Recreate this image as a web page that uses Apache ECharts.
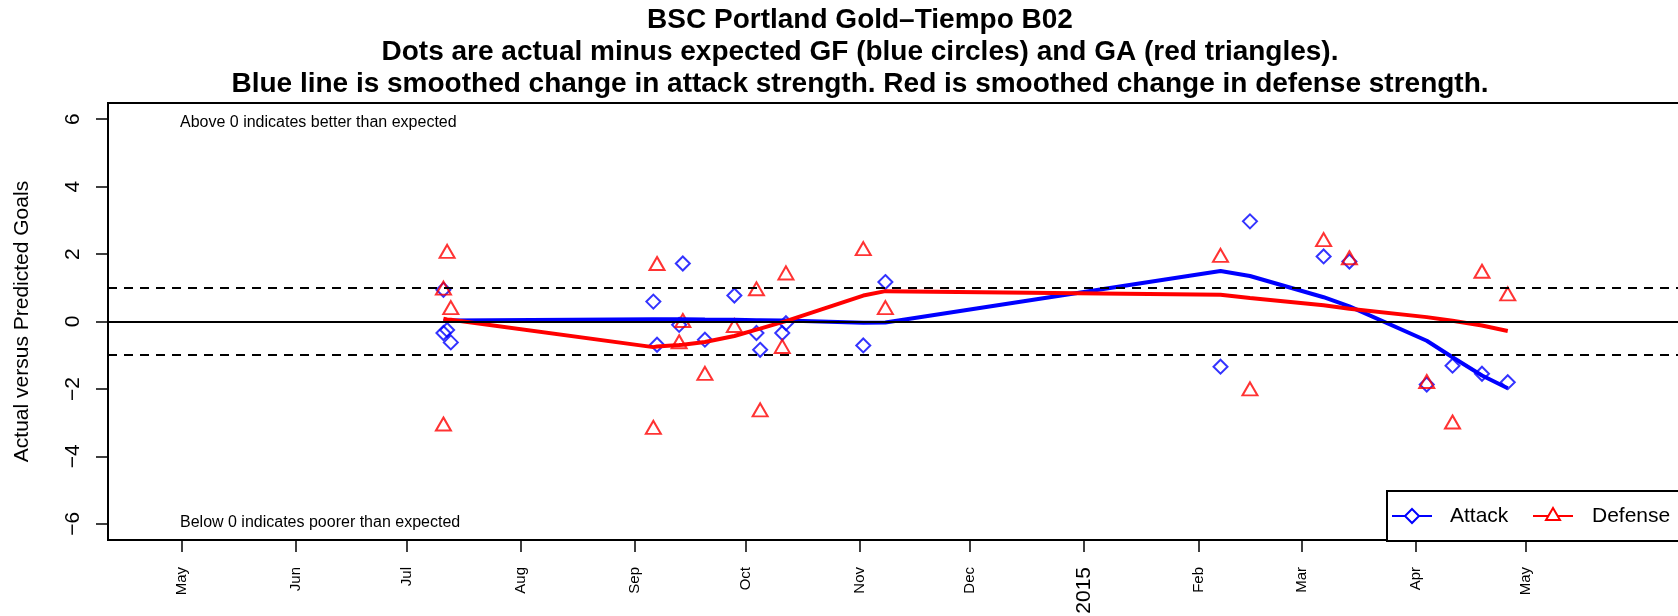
<!DOCTYPE html>
<html>
<head>
<meta charset="utf-8">
<script src="https://cdn.jsdelivr.net/npm/echarts@6/dist/echarts.min.js"></script>
<style>
html,body{margin:0;padding:0;background:#fff;}
#chart{width:1678px;height:616px;}
</style>
</head>
<body>
<div id="chart"></div>
<script>
// ---- data ----
const matchDates = ['2014-07-11','2014-07-11','2014-07-12','2014-07-13',
  '2014-09-06','2014-09-07','2014-09-13','2014-09-14','2014-09-20','2014-09-28',
  '2014-10-04','2014-10-05','2014-10-11','2014-10-12','2014-11-02','2014-11-08',
  '2015-02-07','2015-02-15','2015-03-07','2015-03-14',
  '2015-04-04','2015-04-11','2015-04-19','2015-04-26'];
const attackDiff = [0.94,-0.34,-0.25,-0.62,
  0.59,-0.69,-0.10,1.72,-0.54,0.77,
  -0.34,-0.84,-0.34,-0.05,-0.71,1.17,
  -1.34,2.97,1.93,1.78,
  -1.87,-1.31,-1.55,-1.80];
const defenseDiff = [-3.04,0.99,2.08,0.41,
  -3.14,1.72,-0.60,0.03,-1.54,-0.12,
  0.97,-2.62,-0.74,1.44,2.16,0.41,
  1.96,-2.00,2.43,1.89,
  -1.78,-2.98,1.49,0.82];
const smoothDates = ['2014-07-11','2014-07-12','2014-07-13',
  '2014-09-06','2014-09-07','2014-09-13','2014-09-14','2014-09-20','2014-09-28',
  '2014-10-04','2014-10-05','2014-10-11','2014-10-12','2014-11-02','2014-11-08',
  '2015-02-07','2015-02-15','2015-03-07','2015-03-14',
  '2015-04-04','2015-04-11','2015-04-19','2015-04-26'];
const attackSmooth = [0.02,0.02,0.03,
  0.07,0.07,0.07,0.07,0.06,0.05,
  0.04,0.04,0.03,0.03,-0.04,-0.03,
  1.50,1.35,0.72,0.45,
  -0.57,-1.06,-1.60,-1.98];
const defenseSmooth = [0.08,0.06,0.05,
  -0.76,-0.74,-0.70,-0.69,-0.61,-0.43,
  -0.24,-0.21,-0.02,0.01,0.77,0.90,
  0.79,0.70,0.48,0.38,
  0.13,0.02,-0.12,-0.28];
const xTickDates = ['2014-05-01','2014-06-01','2014-07-01','2014-08-01','2014-09-01',
  '2014-10-01','2014-11-01','2014-12-01','2015-01-01','2015-02-01','2015-03-01',
  '2015-04-01','2015-05-01'];
const xTickLabels = ['May','Jun','Jul','Aug','Sep','Oct','Nov','Dec','2015','Feb','Mar','Apr','May'];
const yTicks = [-6,-4,-2,0,2,4,6];
const refLines = [0, 1, -1];
const titleLines = ['BSC Portland Gold\u2013Tiempo B02',
  'Dots are actual minus expected GF (blue circles) and GA (red triangles).',
  'Blue line is smoothed change in attack strength. Red is smoothed change in defense strength.'];
const xRange = ['2014-04-10T22:00:00Z','2015-06-12T14:00:00Z'];
const yRange = [-6.48, 6.48];

// ---- build ----
const ts = s => Date.parse(s);
const xTickTimes = xTickDates.map(ts);
const pairs = (dates, vals) => dates.map((d,i) => [ts(d), vals[i]]);
const FONT = "'Liberation Sans', Arial, Helvetica, sans-serif";

const titleGraphics = titleLines.map((t, i) => ({
  type: 'text', x: 860, y: 20 + i * 32,
  style: {text: t, font: "bold 28px " + FONT, fill: '#000', align: 'center', verticalAlign: 'middle'}
}));

const chart = echarts.init(document.getElementById('chart'), null, {renderer:'canvas'});
chart.setOption({
  animation: false,
  backgroundColor: '#fff',
  grid: {left: 108, top: 103, right: -5, bottom: 76, outerBoundsMode: 'none', containLabel: false,
         show: true, borderColor: '#000', borderWidth: 2, backgroundColor: 'transparent'},
  xAxis: {
    type: 'value', min: ts(xRange[0]), max: ts(xRange[1]),
    axisLine: {show: false, onZero: false},
    splitLine: {show: false},
    axisTick: {show: true, customValues: xTickTimes, length: 12, lineStyle: {color: '#000', width: 1.5}},
    axisLabel: {
      customValues: xTickTimes, rotate: 90, margin: 27, color: '#000',
      fontFamily: FONT, fontSize: 15,
      formatter: function (v) {
        const i = xTickTimes.indexOf(v);
        const lab = i >= 0 ? xTickLabels[i] : '';
        return /^\d{4}$/.test(lab) ? '{yr|' + lab + '}' : lab;
      },
      rich: {yr: {fontSize: 21, fontFamily: FONT, color: '#000'}}
    }
  },
  yAxis: {
    type: 'value', min: yRange[0], max: yRange[1],
    name: 'Actual versus Predicted Goals', nameLocation: 'middle', nameGap: 75, nameRotate: 90,
    nameTextStyle: {fontFamily: FONT, fontSize: 21, color: '#000'},
    axisLine: {show: false, onZero: false},
    splitLine: {show: false},
    axisTick: {show: true, customValues: yTicks, length: 12, lineStyle: {color: '#000', width: 1.5}},
    axisLabel: {
      customValues: yTicks, rotate: 90, margin: 24, color: '#000',
      fontFamily: FONT, fontSize: 21,
      formatter: v => (v < 0 ? '\u2212' + Math.abs(v) : String(v))
    }
  },
  series: [
    {
      name: 'Attack', type: 'scatter', data: pairs(matchDates, attackDiff),
      symbol: 'diamond', symbolSize: 14,
      itemStyle: {color: 'rgba(0,0,0,0)', borderColor: '#0000FF', borderWidth: 2},
      z: 3
    },
    {
      name: 'Defense', type: 'scatter', data: pairs(matchDates, defenseDiff),
      symbol: 'triangle', symbolSize: [15, 13],
      itemStyle: {color: 'rgba(0,0,0,0)', borderColor: '#FF0000', borderWidth: 2},
      z: 3,
      markLine: {
        silent: true, symbol: ['none','none'], label: {show: false},
        data: refLines.map(v => ({yAxis: v, lineStyle: {color: '#000', width: 2, type: v === 0 ? 'solid' : [9, 7]}}))
      }
    },
    {
      name: 'Attack smooth', type: 'line', data: pairs(smoothDates, attackSmooth),
      symbol: 'none', lineStyle: {color: '#0000FF', width: 4}, z: 4
    },
    {
      name: 'Defense smooth', type: 'line', data: pairs(smoothDates, defenseSmooth),
      symbol: 'none', lineStyle: {color: '#FF0000', width: 4}, z: 4
    }
  ],
  graphic: titleGraphics.concat([
    {type: 'text', x: 180, y: 123, style: {text: 'Above 0 indicates better than expected', font: "16px " + FONT, fill: '#000', verticalAlign: 'middle'}},
    {type: 'text', x: 180, y: 523, style: {text: 'Below 0 indicates poorer than expected', font: "16px " + FONT, fill: '#000', verticalAlign: 'middle'}},
    {type: 'group', z: 100, children: [
      {type: 'rect', shape: {x: 1387, y: 491, width: 400, height: 50}, style: {fill: '#fff', stroke: '#000', lineWidth: 2}},
      {type: 'line', shape: {x1: 1392, y1: 516, x2: 1432, y2: 516}, style: {stroke: '#0000FF', lineWidth: 1.8}},
      {type: 'polygon', shape: {points: [[1412,509],[1419,516],[1412,523],[1405,516]]}, style: {fill: '#fff', stroke: '#0000FF', lineWidth: 2}},
      {type: 'text', x: 1450, y: 516, style: {text: 'Attack', font: "21px " + FONT, fill: '#000', verticalAlign: 'middle'}},
      {type: 'line', shape: {x1: 1533, y1: 516, x2: 1573, y2: 516}, style: {stroke: '#FF0000', lineWidth: 1.8}},
      {type: 'polygon', shape: {points: [[1553,508],[1560,520],[1546,520]]}, style: {fill: '#fff', stroke: '#FF0000', lineWidth: 2}},
      {type: 'text', x: 1592, y: 516, style: {text: 'Defense', font: "21px " + FONT, fill: '#000', verticalAlign: 'middle'}}
    ]}
  ])
});
</script>
</body>
</html>
